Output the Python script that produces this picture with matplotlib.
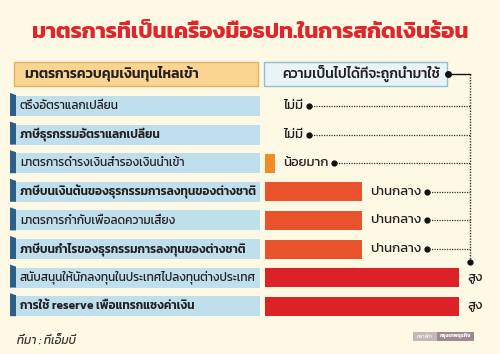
import matplotlib
matplotlib.use("Agg")
import matplotlib.pyplot as plt
from matplotlib.patches import Rectangle, Polygon

plt.rcParams['font.family'] = ['Kanit', 'DejaVu Sans']

title = "มาตรการที่เป็นเครื่องมือธปท.ในการสกัดเงินร้อน"
head_left = "มาตรการควบคุมเงินทุนไหลเข้า"
head_right = "ความเป็นไปได้ที่จะถูกนำมาใช้"
measures = ["ตรึงอัตราแลกเปลี่ยน",
            "ภาษีธุรกรรมอัตราแลกเปลี่ยน",
            "มาตรการดำรงเงินสำรองเงินนำเข้า",
            "ภาษีบนเงินต้นของธุรกรรมการลงทุนของต่างชาติ",
            "มาตรการกำกับเพื่อลดความเสี่ยง",
            "ภาษีบนกำไรของธุรกรรมการลงทุนของต่างชาติ",
            "สนับสนุนให้นักลงทุนในประเทศไปลงทุนต่างประเทศ",
            "การใช้ reserve เพื่อแทรกแซงค่าเงิน"]
levels = ["ไม่มี", "ไม่มี", "น้อยมาก", "ปานกลาง", "ปานกลาง", "ปานกลาง", "สูง", "สูง"]
scores = [0, 0, 5, 50, 50, 50, 100, 100]
source = "ที่มา : ทีเอ็มบี"

level_color = {"ไม่มี": "#e9532b", "น้อยมาก": "#f28c28",
               "ปานกลาง": "#e9532b", "สูง": "#dc2127"}

bg = "#fdf9e5"
fig = plt.figure(figsize=(5, 3.54), dpi=100, facecolor=bg)
ax = fig.add_axes([0, 0, 1, 1])
ax.set_xlim(0, 500)
ax.set_ylim(354, 0)
ax.axis("off")

ax.text(250, 33, title, ha="center", va="center", fontsize=16,
        fontweight="bold", color="#e0262b")

# header boxes
ax.add_patch(Rectangle((14, 62), 244, 24, facecolor="#fad491",
                       edgecolor="#e3b066", lw=1))
ax.text(24, 73, head_left, ha="left", va="center", fontsize=10,
        fontweight="semibold", color="#231f20")
ax.add_patch(Rectangle((264, 62), 183, 24, facecolor="#e8f4f6",
                       edgecolor="#8fbfd0", lw=1))
ax.text(282, 73, head_right, ha="left", va="center", fontsize=10,
        fontweight="medium", color="#231f20")

y0, step, bh = 106, 28.6, 20
ys = [y0 + i * step for i in range(len(measures))]
scale = 1.94
x_bar = 265
x_line = 470

for i, (y, m) in enumerate(zip(ys, measures)):
    ax.add_patch(Rectangle((15, y - bh / 2), 245, bh, facecolor="#bfdfec",
                           edgecolor="none"))
    ax.add_patch(Polygon([(10, y - bh / 2 - 3), (16, y - bh / 2 - 1),
                          (16, y + bh / 2), (10, y + bh / 2)],
                         closed=True, facecolor="#2d5f88", edgecolor="none"))
    ax.text(20, y, m, ha="left", va="center", fontsize=8.6,
            fontweight="semibold" if i % 2 else "normal", color="#231f20")

widths = [s * scale for s in scores]
ax.barh(ys, widths, left=x_bar, height=19,
        color=[level_color[l] for l in levels], edgecolor="none")

fig.canvas.draw()
r = fig.canvas.get_renderer()
inv = ax.transData.inverted()
for y, w, l in zip(ys, widths, levels):
    lx = x_bar + max(w, 10) + 8
    t = ax.text(lx, y, l, ha="left", va="center", fontsize=9.5,
                fontweight="normal", color="#231f20")
    if l == "สูง":
        continue
    bb = t.get_window_extent(r)
    ex = inv.transform((bb.x1, bb.y0))[0]
    ax.plot([ex + 6], [y], "o", ms=3.5, color="#111111")
    ax.plot([ex + 8, x_line], [y, y], ls=(0, (1, 1)), lw=0.9, color="#333333")

# header connector
ax.plot([448], [74], "o", ms=4, color="#111111")
ax.plot([448, x_line], [74, 74], lw=1, color="#111111")
ax.plot([x_line, x_line], [74, 262], ls=(0, (1, 1)), lw=1, color="#333333")
ax.plot([x_line], [262], "o", ms=3.5, color="#111111")

ax.text(17, 341, source, ha="left", va="center", fontsize=8.5,
        style="italic", color="#333333")

# logo
ax.add_patch(Rectangle((413, 332), 24, 9, facecolor="#c4b8b8", edgecolor="none"))
ax.add_patch(Rectangle((437, 332), 37, 9, facecolor="#a08a8f", edgecolor="none"))
ax.text(425, 336.5, "กราฟิก", ha="center", va="center", fontsize=4, color="white")
ax.text(455.5, 336.5, "กรุงเทพธุรกิจ", ha="center", va="center", fontsize=4,
        color="white", fontweight="bold")

fig.savefig("out.png", dpi=100, facecolor=bg)
